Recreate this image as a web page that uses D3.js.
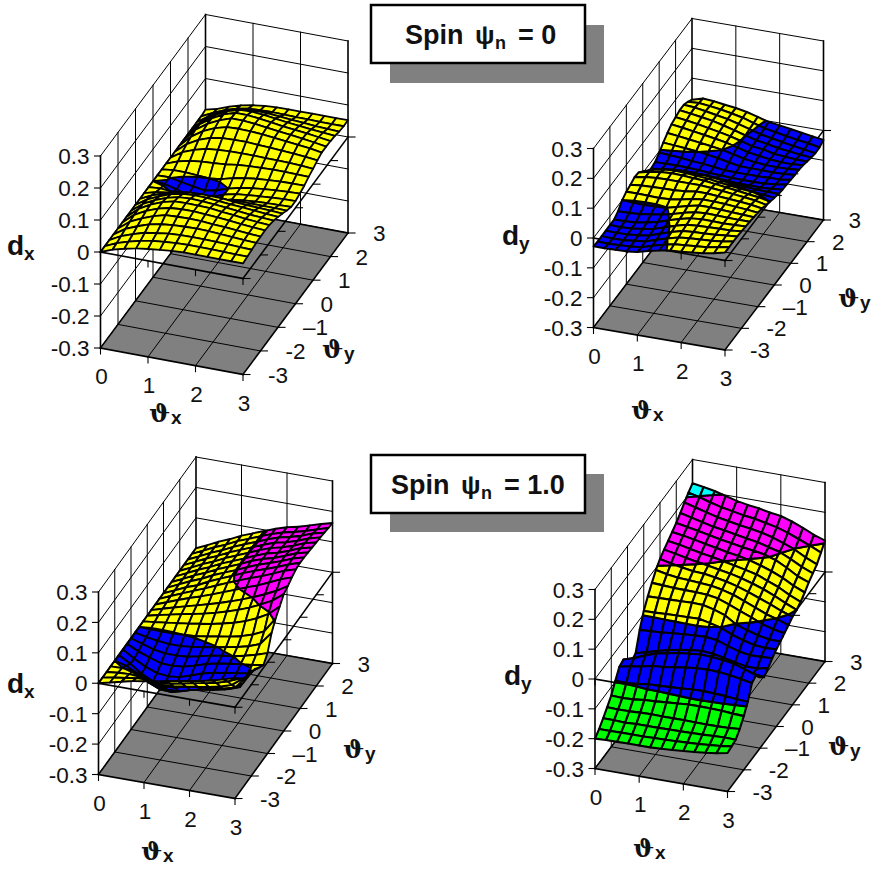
<!DOCTYPE html>
<html>
<head>
<meta charset="utf-8">
<title>Spin surfaces</title>
<script src="https://cdn.jsdelivr.net/npm/d3@7"></script>
<style>
  html, body { margin: 0; padding: 0; background: #fff; }
  svg { display: block; }
  text { font-family: "Liberation Sans", Arial, sans-serif; fill: #111; }
</style>
</head>
<body>
<div id="chart"></div>
<script>
// grid of the surfaces
var xValues = [0, 0.25, 0.5, 0.75, 1, 1.25, 1.5, 1.75, 2, 2.25, 2.5, 2.75, 3];
var yValues = [-3, -2.75, -2.5, -2.25, -2, -1.75, -1.5, -1.25, -1, -0.75, -0.5, -0.25, 0,
  0.25, 0.5, 0.75, 1, 1.25, 1.5, 1.75, 2, 2.25, 2.5, 2.75, 3];

// axis ticks
var xTicks = [0, 1, 2, 3];
var yTicks = [-3, -2, -1, 0, 1, 2, 3];
var zTicks = [-300, -200, -100, 0, 100, 200, 300];
var xTickLabels = ['0', '1', '2', '3'];
var yTickLabels = ['-3', '-2', '\u20131', '0', '1', '2', '3'];
var zTickLabels = ['-0.3', '-0.2', '-0.1', '0', '0.1', '0.2', '0.3'];

// colour bands, in the same unit as the surfaces
var bandEdges = [-300, -200, -100, 0, 100, 200, 300];
var bandColors = ['#ff0000', '#00ff00', '#0000ff', '#ffff00', '#ff00ff', '#00ffff'];

// surface values in thousandths, one row per yValues entry (y = -3 first), one column per xValues entry
var dxSpin0 = [
  [0,14,24,32,37,41,45,47,47,47,47,47,47],
  [0,16,28,37,44,48,51,52,52,52,51,50,50],
  [0,20,33,44,50,55,57,58,58,57,56,54,53],
  [0,24,39,52,59,63,65,66,65,63,60,58,56],
  [0,28,45,59,69,71,72,71,68,66,63,60,57],
  [0,31,50,64,73,76,76,74,71,68,64,61,58],
  [0,31,51,66,75,77,76,75,70,67,62,59,56],
  [0,28,47,61,70,72,71,68,65,61,57,54,52],
  [0,24,40,54,62,64,63,60,57,54,51,48,45],
  [0,18,30,42,48,50,50,49,45,43,41,39,37],
  [0,10,15,18,20,20,23,27,29,29,29,29,28],
  [0,3,-1,-6,-9,-5,1,9,14,17,19,20,21],
  [0,-2,-12,-24,-26,-14,0,8,12,15,18,20,21],
  [0,1,-7,-14,-20,-12,0,9,15,19,22,24,26],
  [0,5,5,2,0,4,14,21,26,29,31,32,32],
  [0,14,22,27,29,32,37,40,42,43,43,42,41],
  [0,24,38,48,52,54,55,55,54,54,53,51,48],
  [0,31,51,64,70,72,72,70,68,66,63,60,56],
  [0,36,60,76,86,88,87,84,80,76,72,68,62],
  [0,39,64,82,95,95,92,87,82,78,73,68,62],
  [0,38,63,82,94,94,90,85,79,75,71,66,61],
  [0,33,56,74,85,86,83,78,73,69,65,62,59],
  [0,26,44,59,68,70,69,66,63,60,57,55,54],
  [0,18,33,45,52,54,55,54,53,53,52,52,52],
  [3,12,26,37,44,49,51,52,52,52,52,52,53]
];
var dySpin0 = [
  [-28,-28,-27,-26,-22,-12,-4,2,4,8,12,18,27],
  [-30,-31,-30,-28,-24,-13,-3,5,8,11,14,20,27],
  [-30,-32,-31,-27,-23,-11,0,9,13,15,17,21,27],
  [-30,-31,-30,-26,-21,-8,3,13,16,17,19,23,26],
  [-29,-30,-28,-24,-17,-5,6,16,19,20,21,22,25],
  [-29,-28,-26,-20,-12,0,11,19,22,22,21,22,23],
  [-19,-19,-16,-11,-5,3,13,21,24,23,22,21,21],
  [0,-3,-4,-3,-1,8,18,26,26,24,22,20,18],
  [10,10,9,8,10,15,23,28,27,25,22,19,15],
  [15,19,20,21,22,25,30,30,27,24,21,17,11],
  [22,29,32,33,33,33,33,30,26,22,18,13,5],
  [20,29,34,36,35,32,30,25,20,15,10,5,-2],
  [5,17,24,26,24,21,18,12,7,3,0,-4,-8],
  [-13,-4,3,7,8,7,4,-1,-5,-8,-11,-12,-13],
  [-22,-17,-13,-11,-11,-13,-15,-19,-21,-22,-22,-20,-17],
  [-18,-17,-17,-18,-20,-23,-25,-27,-28,-28,-27,-24,-18],
  [-5,-7,-10,-14,-17,-21,-26,-27,-27,-27,-26,-25,-20],
  [11,8,5,1,-4,-10,-18,-24,-25,-25,-26,-25,-22],
  [25,21,16,11,6,0,-9,-17,-23,-26,-27,-26,-23],
  [36,31,25,19,13,6,-4,-14,-20,-25,-28,-29,-26],
  [42,37,31,24,17,9,-1,-12,-16,-25,-28,-31,-31],
  [47,42,36,30,21,11,0,-10,-16,-24,-28,-33,-36],
  [47,44,38,31,24,14,3,-8,-15,-22,-28,-34,-40],
  [39,41,37,32,25,17,5,-6,-13,-20,-26,-31,-39],
  [28,38,35,30,25,18,8,-3,-8,-14,-20,-26,-32]
];
var dxSpin1 = [
  [0,9,18,27,33,39,47,54,60,67,75,85,96],
  [0,7,12,18,18,17,20,27,35,41,49,60,76],
  [0,4,6,3,-6,-15,-12,-2,4,10,18,30,58],
  [0,1,-3,-12,-38,-44,-42,-32,-24,-18,-10,5,47],
  [0,-10,-30,-52,-68,-70,-60,-48,-38,-33,-27,-14,40],
  [0,-22,-48,-66,-73,-69,-58,-43,-31,-26,-20,-9,34],
  [0,-24,-44,-58,-62,-58,-46,-33,-24,-18,-12,-6,20],
  [0,-18,-32,-44,-46,-42,-32,-20,-12,-6,-1,3,9],
  [0,-12,-24,-30,-31,-28,-20,-11,-5,0,8,18,30],
  [0,-8,-14,-18,-18,-14,-8,-2,5,12,21,35,78],
  [0,-1,-2,-2,0,3,8,15,21,29,41,58,107],
  [0,4,9,14,19,25,31,39,48,60,76,96,128],
  [0,9,17,25,32,40,49,60,72,86,103,122,150],
  [0,11,22,32,42,52,63,75,88,102,118,136,158],
  [0,14,28,41,53,66,80,94,109,122,138,155,168],
  [0,16,31,46,61,77,92,107,121,134,149,165,176],
  [0,16,33,46,65,81,96,112,126,139,152,167,179],
  [0,17,34,49,67,82,97,113,128,140,153,168,178],
  [0,17,35,50,68,83,98,115,128,138,152,167,176],
  [0,17,35,50,68,83,98,114,128,137,150,165,174],
  [0,17,35,50,68,83,98,114,127,136,148,163,172],
  [0,17,35,50,68,83,98,113,126,134,146,160,170],
  [0,17,35,50,68,83,97,112,125,133,144,158,167],
  [0,17,35,50,68,82,97,111,123,131,141,153,164],
  [0,17,35,50,68,82,96,110,122,130,141,152,162]
];
var dySpin1 = [
  [-200,-198,-198,-197,-197,-197,-195,-193,-190,-187,-183,-178,-171],
  [-186,-186,-185,-185,-185,-184,-183,-182,-180,-178,-175,-172,-167],
  [-168,-168,-170,-168,-168,-168,-167,-167,-166,-165,-163,-162,-163],
  [-149,-150,-150,-148,-147,-148,-148,-148,-149,-149,-149,-148,-145],
  [-128,-130,-128,-124,-122,-119,-116,-113,-113,-114,-115,-118,-120],
  [-97,-98,-95,-89,-88,-86,-84,-81,-80,-82,-84,-88,-90],
  [-68,-60,-54,-46,-43,-37,-32,-28,-26,-28,-32,-38,-46],
  [-62,-50,-35,-22,-15,-8,-4,0,-2,-6,-12,-24,-38],
  [-84,-72,-58,-48,-40,-32,-26,-26,-30,-36,-44,-54,-62],
  [-104,-90,-78,-68,-60,-52,-50,-52,-56,-62,-68,-75,-80],
  [-95,-85,-75,-65,-58,-52,-49,-52,-60,-68,-75,-76,-68],
  [-35,-33,-31,-27,-24,-22,-20,-25,-38,-50,-56,-55,-53],
  [10,11,13,14,15,16,8,-2,-18,-30,-40,-43,-42],
  [41,42,43,44,45,44,35,22,-2,-15,-26,-33,-33],
  [68,66,64,63,62,60,54,40,25,10,-6,-17,-24],
  [93,85,80,78,75,72,65,55,40,25,9,-2,-15],
  [112,103,96,90,88,82,75,65,52,38,24,8,-5],
  [125,118,110,103,97,90,83,74,63,50,34,16,0],
  [136,130,122,114,108,100,92,84,75,60,45,25,9],
  [148,142,135,127,120,112,106,98,87,74,58,38,22],
  [160,153,146,138,130,124,117,112,105,93,74,52,38],
  [175,166,157,148,142,135,128,122,112,102,85,65,50],
  [192,182,172,162,155,148,143,136,126,113,98,78,62],
  [207,198,187,177,170,163,158,150,142,130,115,100,83],
  [220,214,207,197,187,180,175,167,162,150,135,118,105]
];

// screen corners of each box: a = (x0, y-3), b = (x3, y-3), c = (x3, y3) on the floor, h = box height
var panels = [
  { values: dxSpin0, a: [100.5, 348], b: [243, 374.5], c: [348, 233], h: 192, meshWidth: 1.8,
    dName: 'x', dPos: [7, 255], thetaX: [149, 422], thetaY: [322, 358] },
  { values: dySpin0, a: [593.5, 327.5], b: [725, 350], c: [823.5, 220], h: 179, meshWidth: 2,
    dName: 'y', dPos: [502, 245], thetaX: [631, 419], thetaY: [838, 307] },
  { values: dxSpin1, a: [98.5, 774.5], b: [235, 798.5], c: [332.5, 663.5], h: 182.5, meshWidth: 1.9,
    dName: 'x', dPos: [7, 693], thetaX: [141, 860], thetaY: [343, 758] },
  { values: dySpin1, a: [595, 768.5], b: [727.5, 791.5], c: [825, 661.5], h: 179, meshWidth: 2.1,
    dName: 'y', dPos: [504, 685], thetaX: [633, 857], thetaY: [828, 755] }
];

var titles = [
  { value: '0', left: 405, baseline: 44, box: [371, 5, 214, 58], shadow: [390, 25, 214, 58] },
  { value: '1.0', left: 391, baseline: 494, box: [371, 455, 214, 58], shadow: [390, 474, 214, 58] }
];

var svg = d3.select('#chart').append('svg')
  .attr('width', 876)
  .attr('height', 871);

var xScale = d3.scaleLinear().domain([0, 3]).range([0, 1]);
var yScale = d3.scaleLinear().domain([-3, 3]).range([0, 1]);
var zScale = d3.scaleLinear().domain([-300, 300]).range([0, 1]);
var bandColor = d3.scaleThreshold().domain(bandEdges.slice(1, -1)).range(bandColors);

function project(p, x, y, z) {
  var fx = xScale(x), fy = yScale(y), fz = zScale(z);
  return [
    p.a[0] + fx * (p.b[0] - p.a[0]) + fy * (p.c[0] - p.b[0]),
    p.a[1] + fx * (p.b[1] - p.a[1]) + fy * (p.c[1] - p.b[1]) - fz * p.h
  ];
}

// keep the part of a polygon on one side of a z level
function clipPoly(poly, level, keepAbove) {
  var out = [];
  poly.forEach(function (cur, i) {
    var next = poly[(i + 1) % poly.length];
    var curIn = keepAbove ? cur[2] >= level : cur[2] <= level;
    var nextIn = keepAbove ? next[2] >= level : next[2] <= level;
    if (curIn) out.push(cur);
    if (curIn !== nextIn) {
      var t = (level - cur[2]) / (next[2] - cur[2]);
      out.push([cur[0] + t * (next[0] - cur[0]), cur[1] + t * (next[1] - cur[1]), level]);
    }
  });
  return out;
}

// cells from far to near, each split along the colour bands
function surfacePolys(values) {
  var polys = [];
  for (var j = yValues.length - 2; j >= 0; j--) {
    for (var i = 0; i < xValues.length - 1; i++) {
      var cell = [
        [xValues[i], yValues[j], values[j][i]],
        [xValues[i + 1], yValues[j], values[j][i + 1]],
        [xValues[i + 1], yValues[j + 1], values[j + 1][i + 1]],
        [xValues[i], yValues[j + 1], values[j + 1][i]]
      ];
      for (var b = 0; b < bandColors.length; b++) {
        var part = clipPoly(clipPoly(cell, bandEdges[b], true), bandEdges[b + 1], false);
        if (part.length > 2) {
          polys.push({ points: part, color: bandColor((bandEdges[b] + bandEdges[b + 1]) / 2) });
        }
      }
    }
  }
  return polys;
}

function drawLines(g, lines, width) {
  g.append('g').selectAll('line')
    .data(lines)
    .join('line')
    .attr('x1', function (d) { return d[0][0]; })
    .attr('y1', function (d) { return d[0][1]; })
    .attr('x2', function (d) { return d[1][0]; })
    .attr('y2', function (d) { return d[1][1]; })
    .attr('stroke', '#000')
    .attr('stroke-width', width)
    .attr('stroke-linecap', 'square');
}

function drawPanel(p) {
  var g = svg.append('g');
  var line = d3.line();
  var at = function (x, y, z) { return project(p, x, y, z); };

  // walls
  var wallLines = [];
  zTicks.forEach(function (z) {
    if (z < 300) {
      wallLines.push([at(0, -3, z), at(0, 3, z)]);
      wallLines.push([at(0, 3, z), at(3, 3, z)]);
    }
  });
  yTicks.slice(1, -1).forEach(function (y) { wallLines.push([at(0, y, -300), at(0, y, 300)]); });
  xTicks.slice(1, -1).forEach(function (x) { wallLines.push([at(x, 3, -300), at(x, 3, 300)]); });
  wallLines.push([at(0, -3, 300), at(0, 3, 300)]);
  wallLines.push([at(0, 3, 300), at(3, 3, 300)]);
  drawLines(g, wallLines, 1);

  // floor
  g.append('path')
    .attr('d', line([at(0, -3, -300), at(3, -3, -300), at(3, 3, -300), at(0, 3, -300)]) + 'Z')
    .attr('fill', '#808080');
  var floorLines = [];
  xTicks.slice(1, -1).forEach(function (x) { floorLines.push([at(x, -3, -300), at(x, 3, -300)]); });
  yTicks.slice(1, -1).forEach(function (y) { floorLines.push([at(0, y, -300), at(3, y, -300)]); });
  drawLines(g, floorLines, 1);

  // box frame, floor axes and the axes at level zero
  var frame = [
    [at(0, -3, -300), at(0, -3, 300)],
    [at(0, 3, -300), at(0, 3, 300)],
    [at(3, 3, -300), at(3, 3, 300)],
    [at(0, -3, -300), at(3, -3, -300)],
    [at(3, -3, -300), at(3, 3, -300)],
    [at(0, 3, -300), at(3, 3, -300)],
    [at(0, -3, -300), at(0, 3, -300)],
    [at(0, -3, 0), at(3, -3, 0)],
    [at(3, -3, 0), at(3, 3, 0)]
  ];
  drawLines(g, frame, 1.6);

  var ticks = [];
  xTicks.forEach(function (x) {
    var f = at(x, -3, -300), m = at(x, -3, 0);
    ticks.push([f, [f[0], f[1] + 6]]);
    ticks.push([m, [m[0], m[1] + 6]]);
  });
  yTicks.forEach(function (y) {
    var f = at(3, y, -300), m = at(3, y, 0);
    ticks.push([f, [f[0] + 7, f[1]]]);
    ticks.push([m, [m[0] + 7, m[1]]]);
  });
  zTicks.forEach(function (z) {
    var f = at(0, -3, z);
    ticks.push([[f[0] - 6, f[1]], f]);
  });
  drawLines(g, ticks, 1.1);

  // surface
  g.append('g').selectAll('path')
    .data(surfacePolys(p.values))
    .join('path')
    .attr('d', function (d) {
      return line(d.points.map(function (q) { return at(q[0], q[1], q[2]); })) + 'Z';
    })
    .attr('fill', function (d) { return d.color; })
    .attr('stroke', '#000')
    .attr('stroke-width', p.meshWidth)
    .attr('stroke-linejoin', 'round');

  // tick labels
  g.append('g').selectAll('text')
    .data(zTicks)
    .join('text')
    .attr('x', p.a[0] - 11)
    .attr('y', function (z) { return at(0, -3, z)[1]; })
    .attr('dy', '0.36em')
    .attr('text-anchor', 'end')
    .attr('font-size', 22.5)
    .text(function (z, i) { return zTickLabels[i]; });
  g.append('g').selectAll('text')
    .data(xTicks)
    .join('text')
    .attr('x', function (x) { return at(x, -3, -300)[0] + 1; })
    .attr('y', function (x) { return at(x, -3, -300)[1] + 28; })
    .attr('dy', '0.36em')
    .attr('text-anchor', 'middle')
    .attr('font-size', 22.5)
    .text(function (x, i) { return xTickLabels[i]; });
  g.append('g').selectAll('text')
    .data(yTicks)
    .join('text')
    .attr('x', function (y) { return at(3, y, -300)[0] + 25; })
    .attr('y', function (y) { return at(3, y, -300)[1]; })
    .attr('dy', '0.36em')
    .attr('font-size', 22.5)
    .text(function (y, i) { return yTickLabels[i]; });

  // axis titles
  var dLabel = g.append('text')
    .attr('x', p.dPos[0])
    .attr('y', p.dPos[1])
    .attr('font-size', 28)
    .attr('font-weight', 'bold')
    .text('d');
  dLabel.append('tspan').attr('font-size', 19).attr('dy', 5).text(p.dName);

  [[p.thetaX, 'x'], [p.thetaY, 'y']].forEach(function (t) {
    g.append('text')
      .attr('x', t[0][0])
      .attr('y', t[0][1])
      .attr('font-size', 25)
      .attr('font-weight', 'bold')
      .style('font-family', '"DejaVu Serif", serif')
      .text('\u03d1');
    g.append('text')
      .attr('x', t[0][0] + 22)
      .attr('y', t[0][1] + 2)
      .attr('font-size', 19)
      .attr('font-weight', 'bold')
      .text(t[1]);
  });
}

function drawTitle(t) {
  var g = svg.append('g');
  g.append('rect')
    .attr('x', t.shadow[0]).attr('y', t.shadow[1])
    .attr('width', t.shadow[2]).attr('height', t.shadow[3])
    .attr('fill', '#808080');
  g.append('rect')
    .attr('x', t.box[0]).attr('y', t.box[1])
    .attr('width', t.box[2]).attr('height', t.box[3])
    .attr('fill', '#fff')
    .attr('stroke', '#000')
    .attr('stroke-width', 2.5);
  var parts = [
    { text: 'Spin', dx: 0, dy: 0, size: 27 },
    { text: '\u03c8', dx: 70, dy: 0, size: 26 },
    { text: 'n', dx: 90, dy: 5, size: 18 },
    { text: '= ' + t.value, dx: 113, dy: 0, size: 27 }
  ];
  g.selectAll('text')
    .data(parts)
    .join('text')
    .attr('x', function (d) { return t.left + d.dx; })
    .attr('y', function (d) { return t.baseline + d.dy; })
    .attr('font-size', function (d) { return d.size; })
    .attr('font-weight', 'bold')
    .text(function (d) { return d.text; });
}

panels.forEach(drawPanel);
titles.forEach(drawTitle);
</script>
</body>
</html>
